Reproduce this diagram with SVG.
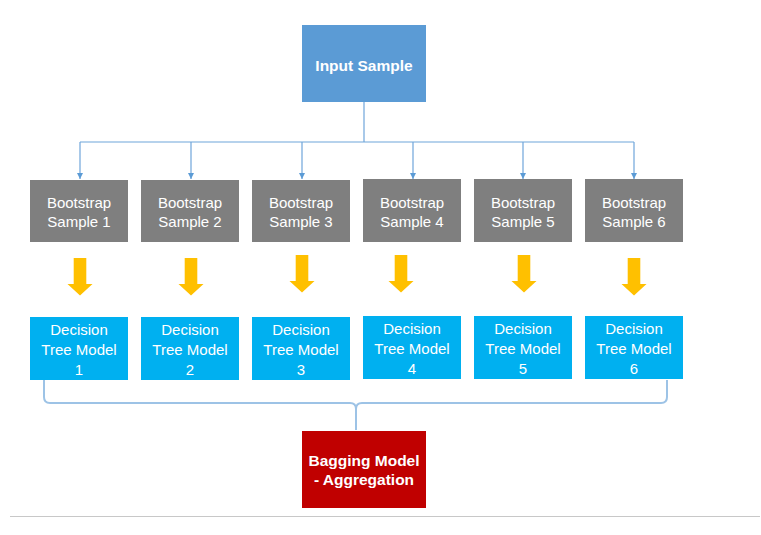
<svg xmlns="http://www.w3.org/2000/svg" width="761" height="535" viewBox="0 0 761 535">
<defs>
<style>
.boot{fill:#7F7F7F}
.dec{fill:#00B0F0}
.t{font-family:"Liberation Sans",Arial,sans-serif;fill:#fff;text-anchor:middle;dominant-baseline:central}
.n{font-size:15px}
.b{font-size:15.5px;font-weight:bold}
.conn{fill:none;stroke:#6FA5DA;stroke-width:1.2}
.brace{fill:none;stroke:#9DC3E6;stroke-width:2}
.ya{fill:#FFC000}
</style>
<marker id="ah" viewBox="0 0 10 10" refX="10" refY="5" markerWidth="6" markerHeight="6" markerUnits="userSpaceOnUse" orient="auto">
<path d="M0,0 L10,5 L0,10 z" fill="#5B9BD5"/>
</marker>
<path id="yarrow" d="M-6.3,0 H6.3 V26 H12.5 L0,37.5 L-12.5,26 H-6.3 Z"/>
</defs>
<rect width="761" height="535" fill="#fff"/>
<g id="connectors">
<path class="conn" d="M364,102 V142"/>
<path class="conn" d="M80,142 H634"/>
<path class="conn" d="M80,142 V179" marker-end="url(#ah)"/>
<path class="conn" d="M191,142 V179" marker-end="url(#ah)"/>
<path class="conn" d="M302,142 V179" marker-end="url(#ah)"/>
<path class="conn" d="M413,142 V179" marker-end="url(#ah)"/>
<path class="conn" d="M523,142 V179" marker-end="url(#ah)"/>
<path class="conn" d="M634,142 V179" marker-end="url(#ah)"/>
<use href="#yarrow" class="ya" x="80" y="258"/>
<use href="#yarrow" class="ya" x="191" y="258"/>
<use href="#yarrow" class="ya" x="302" y="255"/>
<use href="#yarrow" class="ya" x="401" y="255"/>
<use href="#yarrow" class="ya" x="524" y="255"/>
<use href="#yarrow" class="ya" x="634" y="258"/>
<path class="brace" d="M44,380 V397 Q44,403 50,403 H350 Q356,403 356,409 V430 M356,409 Q356,403 362,403 H661 Q667,403 667,397 V380"/>
</g>
<g id="input">
<rect x="302" y="25" width="124" height="77" fill="#5B9BD5"/>
<text class="t b" x="364" y="65" font-size="16.5">Input Sample</text>
</g>
<g id="boot1"><rect class="boot" x="30" y="180" width="98" height="62"/><text class="t n" x="79" y="202">Bootstrap</text><text class="t n" x="79" y="221.5">Sample 1</text></g>
<g id="boot2"><rect class="boot" x="141" y="180" width="98" height="62"/><text class="t n" x="190" y="202">Bootstrap</text><text class="t n" x="190" y="221.5">Sample 2</text></g>
<g id="boot3"><rect class="boot" x="252" y="180" width="98" height="62"/><text class="t n" x="301" y="202">Bootstrap</text><text class="t n" x="301" y="221.5">Sample 3</text></g>
<g id="boot4"><rect class="boot" x="363" y="179" width="98" height="63"/><text class="t n" x="412" y="202">Bootstrap</text><text class="t n" x="412" y="221.5">Sample 4</text></g>
<g id="boot5"><rect class="boot" x="474" y="179" width="98" height="63"/><text class="t n" x="523" y="202">Bootstrap</text><text class="t n" x="523" y="221.5">Sample 5</text></g>
<g id="boot6"><rect class="boot" x="585" y="179" width="98" height="63"/><text class="t n" x="634" y="202">Bootstrap</text><text class="t n" x="634" y="221.5">Sample 6</text></g>
<g id="dt1"><rect class="dec" x="30" y="317" width="98" height="63"/><text class="t n" x="79" y="329">Decision</text><text class="t n" x="79" y="349">Tree Model</text><text class="t n" x="79" y="369">1</text></g>
<g id="dt2"><rect class="dec" x="141" y="317" width="98" height="63"/><text class="t n" x="190" y="329">Decision</text><text class="t n" x="190" y="349">Tree Model</text><text class="t n" x="190" y="369">2</text></g>
<g id="dt3"><rect class="dec" x="252" y="317" width="98" height="63"/><text class="t n" x="301" y="329">Decision</text><text class="t n" x="301" y="349">Tree Model</text><text class="t n" x="301" y="369">3</text></g>
<g id="dt4"><rect class="dec" x="363" y="316" width="98" height="63"/><text class="t n" x="412" y="328">Decision</text><text class="t n" x="412" y="348">Tree Model</text><text class="t n" x="412" y="368">4</text></g>
<g id="dt5"><rect class="dec" x="474" y="316" width="98" height="63"/><text class="t n" x="523" y="328">Decision</text><text class="t n" x="523" y="348">Tree Model</text><text class="t n" x="523" y="368">5</text></g>
<g id="dt6"><rect class="dec" x="585" y="316" width="98" height="63"/><text class="t n" x="634" y="328">Decision</text><text class="t n" x="634" y="348">Tree Model</text><text class="t n" x="634" y="368">6</text></g>
<g id="bagging">
<rect x="302" y="431" width="124" height="77" fill="#C00000"/>
<text class="t b" x="364" y="460">Bagging Model</text>
<text class="t b" x="364" y="479.5">- Aggregation</text>
</g>
<line x1="10" y1="516.5" x2="760" y2="516.5" stroke="#C8C8C8" stroke-width="1.2"/>
</svg>
